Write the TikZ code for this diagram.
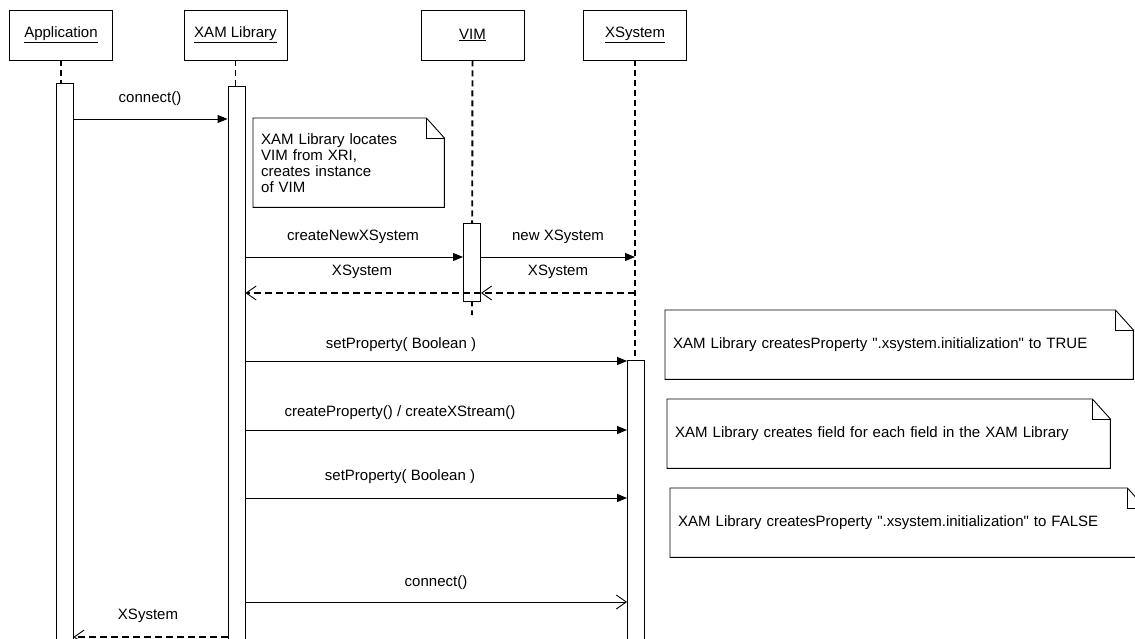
\documentclass[tikz,border=0pt]{standalone}
\usepackage{fontspec}
\setmainfont{Liberation Sans}[Ligatures=TeXOff]
\usetikzlibrary{arrows.meta}

% outline of a UML note with a folded top-right corner, drawn round a node
\newcommand\foldnote[1]{%
  \draw[thinline] (#1.north west) -- ([xshift=-18pt]#1.north east)
    -- ([yshift=-20pt]#1.north east) -- (#1.south east) -- (#1.south west) -- cycle;
  \draw[thinline] ([xshift=-18pt]#1.north east) |- ([yshift=-20pt]#1.north east);}

\begin{document}
\begin{tikzpicture}[x=1pt,y=-1pt,
  font=\fontsize{15}{16}\selectfont,
  thinline/.style={line width=0.9pt},
  head/.style={draw, thinline, minimum width=103pt, minimum height=50pt, inner sep=0pt},
  act/.style={draw, thinline, fill=white, minimum width=17pt, inner sep=0pt},
  lifeline/.style={line width=1.9pt, dash pattern=on 6pt off 4pt},
  call/.style={thinline, -{Triangle[length=10pt,width=8pt]}},
  ret/.style={line width=1.8pt, dash pattern=on 7pt off 4pt,
    -{Straight Barb[length=10pt,width=14pt,line width=0.9pt]}},
  async/.style={thinline, -{Straight Barb[length=10pt,width=14pt]}},
  lbl/.style={inner sep=0pt},
  note/.style={align=left, inner xsep=8pt, inner ysep=0pt, minimum height=69pt, anchor=north west}
]
\clip (0,0) rectangle (1135,639);
\fill[white] (0,0) rectangle (1135,639);

% object heads
\node[head] (app)  at (61,35)    {\underline{Application}};
\node[head] (xam)  at (235.5,35) {\underline{XAM Library}};
\node[head] (vim)  at (472.5,35) {\underline{VIM}};
\node[head] (xsys) at (635,35)   {\underline{XSystem}};

% message levels
\coordinate (y1) at (0,119);
\coordinate (y2) at (0,257);
\coordinate (y3) at (0,293);
\coordinate (y4) at (0,361);
\coordinate (y5) at (0,430);
\coordinate (y6) at (0,498);
\coordinate (y7) at (0,602);
\coordinate (y8) at (0,637);
\coordinate (vimEnd) at (472,315);

% lifelines
\draw[lifeline] (app.south) -- (app.south |- 0,83);
\draw[lifeline] (xam.south) -- (xam.south |- 0,86);
\draw[lifeline] (vim.south) -- (vimEnd);
\draw[lifeline] (xsys.south) -- (xsys.south |- 0,360);

% activation bars
\node[act, minimum height=600pt, anchor=north] (appAct)  at (64.5,83)  {};
\node[act, minimum height=600pt, anchor=north] (xamAct)  at (236.5,86) {};
\node[act, minimum height=78pt,  anchor=north] (vimAct)  at (472,223)  {};
\node[act, minimum height=300pt, anchor=north] (xsysAct) at (636,360)  {};

% messages
\draw[call] (appAct.east |- y1) -- (xamAct.west |- y1);
\node[lbl] (m1) at (150,99) {connect()};

\draw[call] (xamAct.east |- y2) -- (vimAct.west |- y2);
\node[lbl] (m2) at (353,237) {createNewXSystem};
\draw[call] (vimAct.east |- y2) -- (xsys.south |- y2);
\node[lbl] (m3) at (558,237) {new XSystem};

\draw[ret] (xsys.south |- y3) -- (vimAct.east |- y3);
\node[lbl] (r1) at (558,272) {XSystem};
\draw[ret] (vimAct.east |- y3) -- (xamAct.east |- y3);
\node[lbl] (r2) at (362,272) {XSystem};

\draw[call] (xamAct.east |- y4) -- (xsysAct.west |- y4);
\node[lbl] (m4) at (401,345) {setProperty( Boolean )};
\draw[call] (xamAct.east |- y5) -- (xsysAct.west |- y5);
\node[lbl] (m5) at (400,413) {createProperty() / createXStream()};
\draw[call] (xamAct.east |- y6) -- (xsysAct.west |- y6);
\node[lbl] (m6) at (400,477) {setProperty( Boolean )};

\draw[async] (xamAct.east |- y7) -- (xsysAct.west |- y7);
\node[lbl] (m7) at (436,583) {connect()};

\draw[ret] (xamAct.west |- y8) -- (appAct.east |- y8);
\node[lbl] (r3) at (148,616) {XSystem};

% notes
\node[note, minimum width=191pt, minimum height=89pt, text width=175pt] (n1) at (253,118)
  {XAM Library locates\\VIM from XRI,\\creates instance\\of VIM};
\foldnote{n1}
\node[note, minimum width=468pt, text width=452pt] (n2) at (665,310)
  {XAM Library createsProperty ".xsystem.initialization" to TRUE};
\foldnote{n2}
\node[note, minimum width=443pt, text width=427pt] (n3) at (667,399)
  {XAM Library creates field for each field in the XAM Library};
\foldnote{n3}
\node[note, minimum width=475pt, text width=459pt] (n4) at (670,488)
  {XAM Library createsProperty ".xsystem.initialization" to FALSE};
\foldnote{n4}
\end{tikzpicture}
\end{document}
